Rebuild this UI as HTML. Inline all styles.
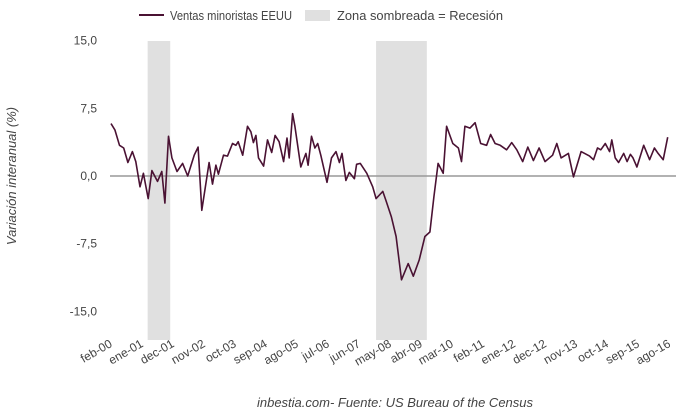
<!DOCTYPE html>
<html><head><meta charset="utf-8"><style>
html,body{margin:0;padding:0;background:#fff;width:680px;height:420px;overflow:hidden}
svg{display:block;font-family:"Liberation Sans",sans-serif}
</style></head><body>
<svg id="chart" width="680" height="420" viewBox="0 0 680 420" xmlns="http://www.w3.org/2000/svg"></svg>
<script>
const monthIdx=[0,1.4,3,4.5,6,7.6,8.8,10.3,11.5,13.2,14.5,16.5,18,19.1,20.4,21.6,23.4,25.4,27.2,29.5,30.9,32.2,34.8,36,37.2,38.1,39.9,41.3,43.1,44.3,45.1,46.7,48.4,49.6,50.5,51.4,52.3,54.1,55.5,57,58.2,59.6,61.2,62.4,63.2,64.4,65.2,67.3,69.1,69.9,71.1,72.3,73.3,74.4,76.6,78.2,79.8,81,81.9,83.3,84.5,86.3,87.1,88.4,90.7,92.8,94,96.4,97.6,99.4,101.1,103,105.4,107.2,109.3,111.3,113.1,114.5,116,117.8,119,121.2,123.2,124.3,125.5,127.3,129.1,131.1,133.2,134.6,136.2,138,140.3,142.1,143.9,146,147.8,149.8,151.8,153.9,156.6,158.1,159.6,162.2,164,166.7,169.7,171.1,172.5,173.7,175.3,176.8,177.6,178.8,180,181.8,183,184.2,185.1,186.5,188.9,191,192.7,194,195.8,197.4,199.5];
const salesYoY=[5.8,5.1,3.4,3.1,1.5,2.7,1.6,-1.2,0.3,-2.5,0.6,-0.6,0.5,-3.0,4.4,2.0,0.5,1.4,0,2.3,3.2,-3.8,1.5,-0.9,1.2,0.2,2.3,2.2,3.6,3.4,3.8,2.3,5.5,4.9,3.7,4.5,2.0,1.1,4.0,2.6,4.5,3.8,1.6,4.2,2.0,6.9,5.5,1.0,2.5,1.2,4.4,3.1,3.6,2.3,-0.7,2.0,2.7,1.5,2.5,-0.5,0.4,-0.3,1.3,1.4,0.3,-1.2,-2.5,-1.7,-2.8,-4.5,-6.7,-11.5,-9.7,-11.1,-9.3,-6.7,-6.2,-2.3,1.4,0.3,5.5,3.6,3.1,1.6,5.5,5.3,5.9,3.6,3.4,4.6,3.6,3.4,2.9,3.7,2.9,1.6,3.2,1.7,3.1,1.6,2.3,3.6,2.0,2.5,-0.1,2.7,2.2,1.8,3.1,2.9,3.6,2.7,4.0,2.0,1.5,2.5,1.6,2.4,2.0,1.0,3.4,1.8,3.1,2.5,1.8,4.3];
const recessions=[[13,21],[94,112]];
const yTicks=[15,7.5,0,-7.5,-15];
const yTickLabels=["15,0","7,5","0,0","-7,5","-15,0"];
const xTickLabels=["feb-00","ene-01","dec-01","nov-02","oct-03","sep-04","ago-05","jul-06","jun-07","may-08","abr-09","mar-10","feb-11","ene-12","dec-12","nov-13","oct-14","sep-15","ago-16"];

const NS="http://www.w3.org/2000/svg";
const svg=document.getElementById('chart');
const x=m=>111+m*2.82;
const y=v=>176-v*9.03;
function mk(t,a,p){const e=document.createElementNS(NS,t);for(const k in a)e.setAttribute(k,a[k]);(p||svg).appendChild(e);return e;}

recessions.forEach(r=>{
  const e=mk('rect',{x:x(r[0]),y:41,width:x(r[1])-x(r[0]),height:299,fill:'#e0e0e0'});
  
  
});
yTicks.forEach((v,i)=>{
  const t=mk('text',{x:97,y:y(v)+4,'text-anchor':'end','font-size':12,fill:'#444'});
  t.textContent=yTickLabels[i];
  
  
});
const zl=mk('line',{x1:110,x2:676,y1:y(0),y2:y(0),stroke:'#999','stroke-width':1.5});


xTickLabels.forEach((l,i)=>{
  const px=x(i*11)+2;
  const t=mk('text',{x:px,y:346,'text-anchor':'end','font-size':12,fill:'#444',transform:`rotate(-30 ${px} 346)`});
  t.textContent=l;
  
  
});
const d=monthIdx.map((m,i)=>(i?'L':'M')+x(m).toFixed(1)+','+y(salesYoY[i]).toFixed(1)).join('');
const ln=mk('path',{d:d,fill:'none',stroke:'#4a1233','stroke-width':1.6,'stroke-linejoin':'round'});



const yt=mk('text',{x:16,y:176,'text-anchor':'middle','font-size':13,'font-style':'italic',fill:'#444',transform:'rotate(-90 16 176)'});
yt.textContent='Variación interanual (%)';


const ft=mk('text',{x:395,y:407,'text-anchor':'middle','font-size':13,'font-style':'italic',fill:'#444'});
ft.textContent='inbestia.com- Fuente: US Bureau of the Census';



const lg=mk('g',{});


const l1=mk('line',{x1:139,x2:164,y1:15,y2:15,stroke:'#4a1233','stroke-width':2},lg);


const t1=mk('text',{x:170,y:20,'font-size':13,fill:'#444',textLength:122,lengthAdjust:'spacingAndGlyphs'},lg);
t1.textContent='Ventas minoristas EEUU';


const r2=mk('rect',{x:305,y:10,width:25,height:11,fill:'#e0e0e0'},lg);


const t2=mk('text',{x:337,y:20,'font-size':13,fill:'#444',textLength:166,lengthAdjust:'spacingAndGlyphs'},lg);
t2.textContent='Zona sombreada = Recesión';


</script>
</body></html>
